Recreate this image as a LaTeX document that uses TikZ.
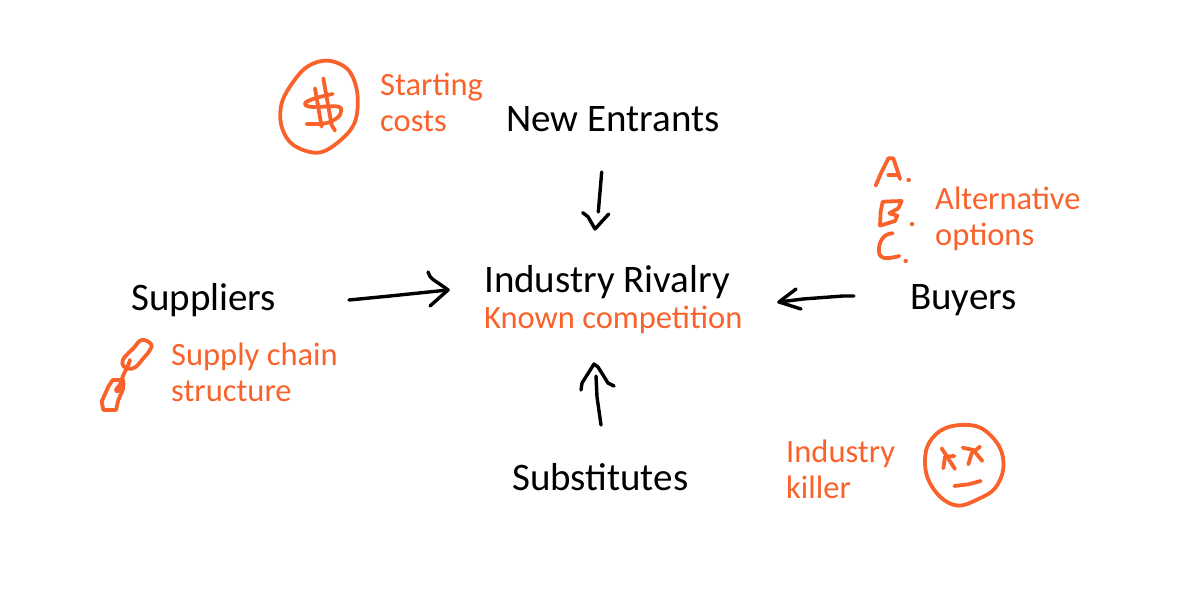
\documentclass[tikz,border=0pt]{standalone}
\usepackage{fontspec}
\setmainfont{Carlito}
\definecolor{accent}{HTML}{F9622A}
\tikzset{
  title/.style={anchor=base west,inner sep=0pt,font=\fontsize{39}{39}\selectfont,text=black},
  note/.style={anchor=base west,inner sep=0pt,font=\fontsize{32.5}{36}\selectfont,text=accent},
  ink/.style={draw=black,line width=3.4pt,line cap=round,line join=round},
  sketch/.style={draw=accent,line width=3.8pt,line cap=round,line join=round},
  icon/.style={x=0.3333pt,y=-0.3333pt}
}
\begin{document}
\begin{tikzpicture}[x=1pt,y=-1pt]
\useasboundingbox (0,0) rectangle (1200,600);
% main labels
\node[title] (entrants) at (506,131) {New Entrants};
\node[title] (rivalry) at (484,292) {Industry Rivalry};
\node[title] (suppliers) at (131,310) {Suppliers};
\node[title] (buyers) at (910,309) {Buyers};
\node[title] (substitutes) at (512,490) {Substitutes};
% notes
\node[note] (known) at (484,328) {Known competition};
\node[note] (starting) at (380,95) {Starting};
\node[note] (costs) at (380,131) {costs};
\node[note] (alternative) at (935,209) {Alternative};
\node[note] (options) at (935,245) {options};
\node[note] (supply) at (171,365) {Supply chain};
\node[note] (structure) at (171,401) {structure};
\node[note] (industry) at (786,462) {Industry};
\node[note] (killer) at (786,498) {killer};
% connector ends
\coordinate (a1) at (601.7,172); \coordinate (a2) at (595,229);
\coordinate (b1) at (349,300);   \coordinate (b2) at (448,290);
\coordinate (c1) at (854,296);   \coordinate (c2) at (779,302);
\coordinate (d1) at (601,425);   \coordinate (d2) at (594,364);
% connectors
\draw[ink] (a1) -- (598.3,212);
\draw[ink] (582.7,212.7) -- (588,216.7) -- (a2) -- (608.7,214);
\draw[ink] (b1) -- (390,296) -- (b2);
\draw[ink] (428,272) .. controls (429,279) and (438,282) .. (b2) -- (430,306);
\draw[ink] (c1) -- (843,296) -- (803,299) -- (c2);
\draw[ink] (796,289) -- (c2) -- (801,309);
\draw[ink] (d1) -- (597,397) -- (596,376);
\draw[ink] (581,390) -- (582,383) -- (d2) -- (598,367) -- (608,383) -- (614,386);
% dollar icon
\begin{scope}[shift={(260,50)},icon]
\draw[sketch] plot[smooth cycle,tension=0.6] coordinates {(205,32)(265,60)(292,130)(285,215)(240,272)(175,308)(100,285)(65,230)(65,160)(100,95)(145,48)};
\draw[sketch] plot[smooth,tension=0.7] coordinates {(218,132)(165,145)(135,160)(150,170)(190,170)(235,170)(243,185)(230,205)(195,220)(140,222)};
\draw[sketch] (165,115) -- (185,230);
\draw[sketch] (190,85) -- (205,170) -- (215,225) -- (225,242);
\end{scope}
% list icon
\begin{scope}[shift={(860,145)},icon]
\draw[sketch] (47,122) -- (65,80) -- (85,40) -- (100,40) -- (110,70) -- (120,102);
\draw[sketch] (85,90) -- (115,90);
\draw[sketch] (145,105) -- (147,105);
\draw[sketch] (70,170) -- (125,168) -- (115,190) -- (88,205) -- (112,212) -- (105,228) -- (60,242) -- (62,200) -- (68,170);
\draw[sketch] (155,238) -- (157,238);
\draw[sketch] plot[smooth,tension=0.8] coordinates {(98,265)(72,275)(57,310)(70,338)(118,333)};
\draw[sketch] (136,348) -- (138,348);
\end{scope}
% chain icon
\begin{scope}[shift={(90,330)},icon]
\draw[sketch] plot[smooth cycle,tension=0.7] coordinates {(155,30)(183,42)(180,60)(160,85)(135,112)(110,115)(97,100)(105,80)(130,55)};
\draw[sketch] (120,90) -- (115,105) -- (100,135) -- (90,165);
\draw[sketch] (68,150) -- (100,150) -- (100,175) -- (85,210) -- (78,240) -- (40,240) -- (35,215) -- (55,170) -- cycle;
\draw[sketch,line width=6.5pt] (82,180) -- (97,162);
\end{scope}
% face icon
\begin{scope}[shift={(910,415)},icon]
\draw[sketch] plot[smooth cycle,tension=0.6] coordinates {(150,30)(215,40)(268,95)(280,160)(255,220)(205,252)(145,272)(90,245)(50,180)(50,100)(90,48)};
\draw[sketch] (95,100) -- (135,162);
\draw[sketch] (100,160) -- (105,125) -- (133,123);
\draw[sketch] (158,98) -- (190,105) -- (217,138);
\draw[sketch] (210,95) -- (185,115) -- (175,148);
\draw[sketch] (133,213) -- (175,208) -- (212,198);
\end{scope}
\end{tikzpicture}
\end{document}
